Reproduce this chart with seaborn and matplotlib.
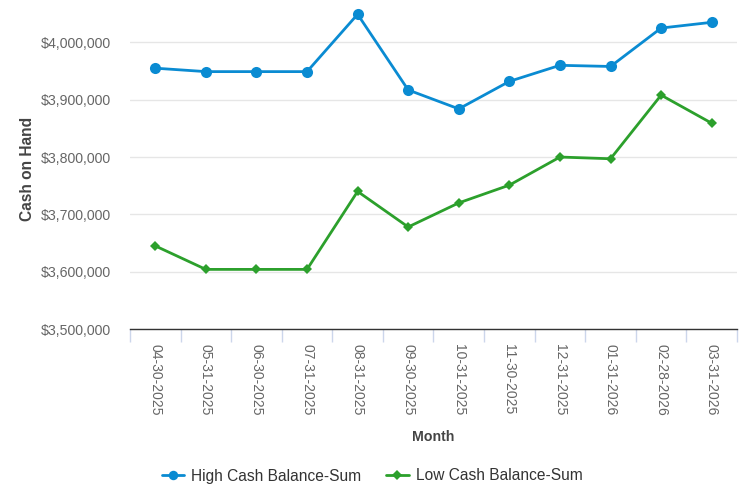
import pandas as pd
import matplotlib.pyplot as plt
import seaborn as sns
from matplotlib.ticker import FuncFormatter, MultipleLocator

months = ['04-30-2025', '05-31-2025', '06-30-2025', '07-31-2025', '08-31-2025',
          '09-30-2025', '10-31-2025', '11-30-2025', '12-31-2025', '01-31-2026',
          '02-28-2026', '03-31-2026']
high_cash = [3955000, 3949000, 3949000, 3949000, 4049000, 3917000,
             3884000, 3932000, 3960000, 3958000, 4025000, 4035000]
low_cash = [3645000, 3604000, 3604000, 3604000, 3740000, 3678000,
            3720000, 3751000, 3800000, 3797000, 3908000, 3859000]

df = pd.DataFrame({
    'Month': months * 2,
    'value': high_cash + low_cash,
    'series': ['High Cash Balance-Sum'] * len(months) + ['Low Cash Balance-Sum'] * len(months),
})

sns.set_theme(style='white')
plt.rcParams['font.family'] = ['Liberation Sans', 'DejaVu Sans']

fig = plt.figure(figsize=(7.41, 4.87), dpi=100)
ax = fig.add_axes([0.1754, 0.3244, 0.8192, 0.6592])

palette = {'High Cash Balance-Sum': '#0a8bd2', 'Low Cash Balance-Sum': '#2ca02c'}
markers = {'High Cash Balance-Sum': 'o', 'Low Cash Balance-Sum': 'D'}
sizes = {'High Cash Balance-Sum': 8, 'Low Cash Balance-Sum': 5.5}

for name, sub in df.groupby('series', sort=False):
    sns.lineplot(data=sub, x='Month', y='value', ax=ax, color=palette[name],
                 marker=markers[name], markersize=sizes[name], markeredgewidth=0,
                 linewidth=2, label=name, sort=False)

ax.set_xlim(-0.5, len(months) - 0.5)
ax.set_ylim(3500000, 4060000)
ax.yaxis.set_major_locator(MultipleLocator(100000))
ax.yaxis.set_major_formatter(FuncFormatter(lambda v, p: f'${v:,.0f}'))
ax.grid(axis='y', color='#e6e6e6', linewidth=1)
ax.set_axisbelow(True)

for s in ['top', 'right', 'left']:
    ax.spines[s].set_visible(False)
ax.spines['bottom'].set_color('#333333')
ax.spines['bottom'].set_linewidth(1)

# category labels centred, tick marks on the band edges
ax.set_xticks(range(len(months)))
ax.set_xticklabels(months, rotation=270, fontsize=10, color='#666666')
ax.set_xticks([i - 0.5 for i in range(len(months) + 1)], minor=True)
ax.tick_params(axis='x', which='major', length=0, pad=11)
ax.tick_params(axis='x', which='minor', length=9, width=1, color='#ccd6eb', bottom=True)
ax.tick_params(axis='y', length=0, labelsize=10.2, labelcolor='#666666', pad=14)

ax.set_xlabel('Month', fontsize=10.2, fontweight='bold', color='#444444', labelpad=10)
ax.set_ylabel('Cash on Hand', fontsize=11.2, fontweight='bold', color='#444444', labelpad=4)

handles, labels = ax.get_legend_handles_labels()
leg = ax.legend(handles, labels, loc='center', ncol=2, frameon=False,
                fontsize=11.2, handlelength=1.45, columnspacing=1.6, handletextpad=0.45,
                markerscale=0.85,
                bbox_to_anchor=(372 / 741, 11 / 487), bbox_transform=fig.transFigure)
for t in leg.get_texts():
    t.set_color('#333333')

fig.savefig('out.png', dpi=100)
